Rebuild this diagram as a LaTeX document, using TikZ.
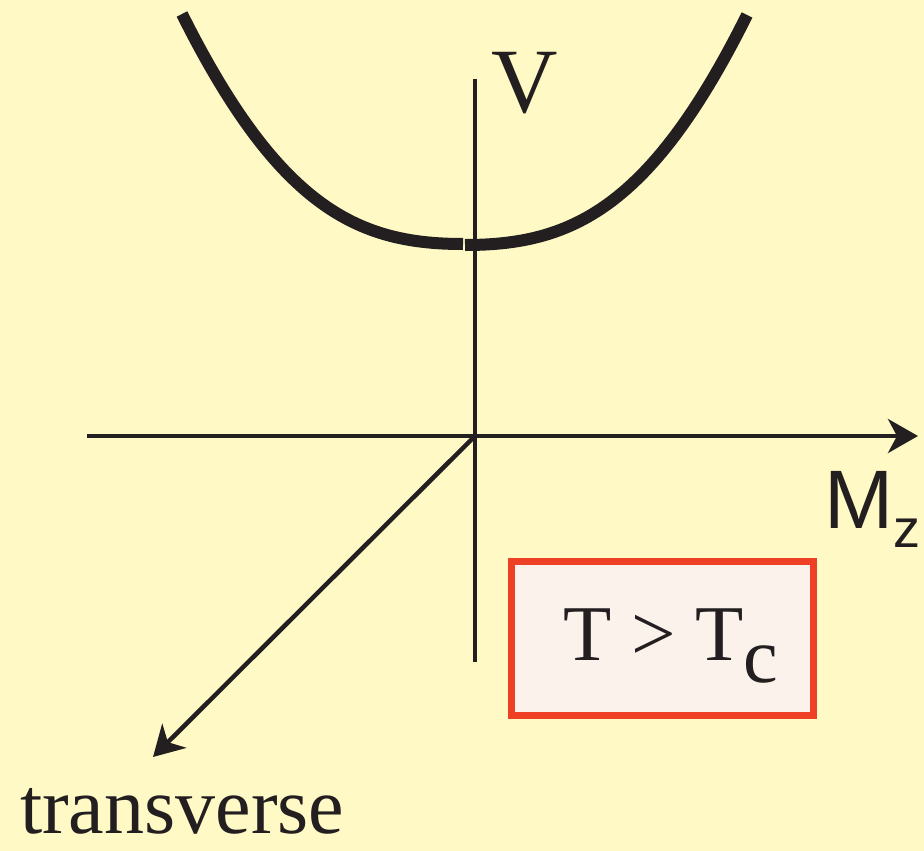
\documentclass[tikz,border=0pt]{standalone}
\usepackage{fontspec}
\setmainfont{Liberation Serif}
\newfontfamily\sansf{Liberation Sans}
\usetikzlibrary{arrows.meta}
\definecolor{bgyellow}{RGB}{255,249,198}
\definecolor{boxfill}{RGB}{251,242,236}
\definecolor{boxred}{RGB}{238,64,36}
\definecolor{ink}{RGB}{35,31,32}
\tikzset{
  axis/.style={draw=ink, line width=4.5pt},
  axisarrow/.style={axis, -{Stealth[length=30pt,width=34pt,inset=9pt]}},
  potential/.style={draw=ink, line width=12pt},
  lbl/.style={inner sep=0pt, outer sep=0pt, text=ink},
}
\begin{document}
\begin{tikzpicture}[x=1pt, y=-1pt]
\fill[bgyellow] (0,0) rectangle (924,851);
\useasboundingbox (0,0) rectangle (924,851);
% axes
\coordinate (O) at (475,436);
\coordinate (xl) at (87,436);
\coordinate (xr) at (918,436);
\coordinate (vt) at (475,79);
\coordinate (vb) at (475,662);
\coordinate (dl) at (153,757);
\draw[axis] (vt) -- (vb);
\draw[axisarrow] (xl) -- (xr);
\draw[axisarrow] (O) -- (dl);
% potential curve
\draw[potential] (182,14) .. controls (280,210) and (360,244) .. (463,244);
\draw[potential] (465,245) .. controls (570,245) and (650,210) .. (747,15);
% labels
\node[lbl, anchor=base west, font=\fontsize{92}{92}\selectfont] (V) at (491,113) {V};
\node[lbl, anchor=base west, font=\sansf\fontsize{83}{83}\selectfont] (Mz) at (824,528)
  {M\raisebox{-19pt}{\fontsize{54}{54}\selectfont z}};
\node[lbl, anchor=base west, font=\fontsize{80}{80}\selectfont] (tr) at (20,833) {transverse};
% box
\node[draw=boxred, fill=boxfill, line width=7pt, minimum width=301.5pt, minimum height=153.5pt, inner sep=0pt] (box) at (662.25,638.25) {};
\node[lbl, anchor=base west, font=\fontsize{79}{79}\selectfont] (T) at (563,660)
  {T > T\raisebox{-22pt}{\fontsize{78}{78}\selectfont c}};
\end{tikzpicture}
\end{document}
